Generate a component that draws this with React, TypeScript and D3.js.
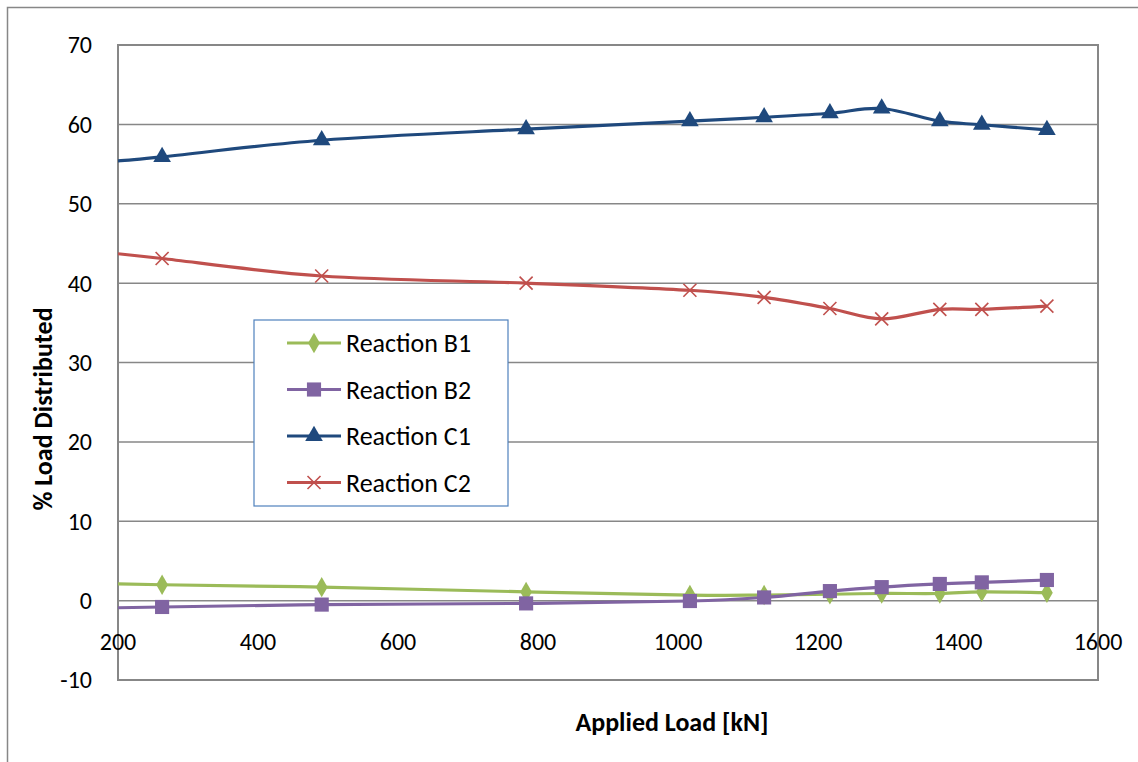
import * as d3 from "d3";

// Applied load [kN] where the values were read (first one sits on the axis edge, no marker)
const loads = [200, 263, 491, 783, 1017, 1123, 1217, 1291, 1374, 1434, 1527];

const reactionB1 = [2.1, 2.0, 1.7, 1.1, 0.7, 0.7, 0.8, 0.9, 0.9, 1.1, 1.0];
const reactionB2 = [-0.9, -0.8, -0.5, -0.35, -0.05, 0.4, 1.2, 1.7, 2.1, 2.3, 2.6];
const reactionC1 = [55.4, 55.9, 58.0, 59.4, 60.4, 60.9, 61.4, 62.0, 60.4, 59.95, 59.3];
const reactionC2 = [43.7, 43.1, 40.9, 40.0, 39.1, 38.2, 36.8, 35.5, 36.7, 36.7, 37.1];

const seriesNames = ["Reaction B1", "Reaction B2", "Reaction C1", "Reaction C2"];
const xTicks = [200, 400, 600, 800, 1000, 1200, 1400, 1600];
const yTicks = [-10, 0, 10, 20, 30, 40, 50, 60, 70];

const W = 1138;
const H = 762;
const FONT = "Carlito, Calibri, Lato, sans-serif";
const GRID = "#878787";

const series = [
  { name: seriesNames[0], values: reactionB1, color: "#9BBB59", marker: "diamond" },
  { name: seriesNames[1], values: reactionB2, color: "#8064A2", marker: "square" },
  { name: seriesNames[2], values: reactionC1, color: "#1F497D", marker: "triangle" },
  { name: seriesNames[3], values: reactionC2, color: "#C0504D", marker: "cross" },
];

function Marker({ kind, color, x, y }: { kind: string; color: string; x: number; y: number }) {
  if (kind === "cross") {
    const s = 6.5;
    return (
      <g transform={`translate(${x},${y})`} stroke={color} strokeWidth={1.6}>
        <line x1={-s} y1={-s} x2={s} y2={s} />
        <line x1={-s} y1={s} x2={s} y2={-s} />
      </g>
    );
  }
  const type =
    kind === "diamond" ? d3.symbolDiamond : kind === "square" ? d3.symbolSquare : d3.symbolTriangle;
  const size = kind === "diamond" ? 120 : kind === "square" ? 200 : 135;
  const path = d3.symbol().type(type).size(size)() as string;
  return <path d={path} transform={`translate(${x},${y})`} fill={color} />;
}

export default function App() {
  const x = d3.scaleLinear().domain([200, 1600]).range([118, 1098]);
  const y = d3.scaleLinear().domain([-10, 70]).range([680, 45]);

  const line = d3
    .line<number>()
    .x((_, i) => x(loads[i]))
    .y((d) => y(d))
    .curve(d3.curveCatmullRom.alpha(0));

  const legendX = 254;
  const legendY = 320;
  const rowH = 46.5;

  return (
    <svg
      width={W}
      height={H}
      style={{ position: "absolute", left: 0, top: 0, background: "#fff" }}
      fontFamily={FONT}
    >
      <defs>
        <clipPath id="plot">
          <rect x={x(200)} y={y(70)} width={x(1600) - x(200)} height={y(-10) - y(70)} />
        </clipPath>
      </defs>
      {/* outer chart border */}
      <rect x={7.5} y={7.5} width={W + 10} height={H + 10} fill="none" stroke={GRID} strokeWidth={1.5} />

      {/* gridlines */}
      {yTicks.map((t) => (
        <line key={t} x1={x(200)} x2={x(1600)} y1={y(t)} y2={y(t)} stroke={GRID} strokeWidth={1.5} />
      ))}
      <rect
        x={x(200)}
        y={y(70)}
        width={x(1600) - x(200)}
        height={y(-10) - y(70)}
        fill="none"
        stroke={GRID}
        strokeWidth={2}
      />

      {/* y tick labels */}
      {yTicks.map((t) => (
        <text key={t} x={92} y={y(t)} dy="0.35em" textAnchor="end" fontSize={24} fill="#000">
          {t}
        </text>
      ))}
      {/* x tick labels */}
      {xTicks.map((t) => (
        <text key={t} x={x(t)} y={642} dy="0.35em" textAnchor="middle" fontSize={24} fill="#000">
          {t}
        </text>
      ))}

      {/* series */}
      <g clipPath="url(#plot)">
        {series.map((s) => (
          <path key={s.name} d={line(s.values) as string} fill="none" stroke={s.color} strokeWidth={3.2} />
        ))}
      </g>
      {series.map((s) =>
        s.values.map((v, i) =>
          i === 0 ? null : <Marker key={s.name + i} kind={s.marker} color={s.color} x={x(loads[i])} y={y(v)} />
        )
      )}

      {/* axis titles */}
      <text x={672} y={722} dy="0.35em" textAnchor="middle" fontSize={26} fontWeight="bold" fill="#000">
        Applied Load [kN]
      </text>
      <text
        transform={`translate(43,${409}) rotate(-90)`}
        dy="0.35em"
        textAnchor="middle"
        fontSize={26}
        fontWeight="bold"
        fill="#000"
      >
        % Load Distributed
      </text>

      {/* legend */}
      <rect x={legendX} y={legendY} width={254} height={186} fill="#fff" stroke="#4F81BD" strokeWidth={1.2} />
      {series.map((s, i) => {
        const cy = legendY + 23 + i * rowH;
        return (
          <g key={s.name}>
            <line x1={287} x2={341} y1={cy} y2={cy} stroke={s.color} strokeWidth={3.2} />
            <Marker kind={s.marker} color={s.color} x={314} y={cy} />
            <text x={346} y={cy} dy="0.35em" fontSize={26} fill="#000">
              {s.name}
            </text>
          </g>
        );
      })}
    </svg>
  );
}
